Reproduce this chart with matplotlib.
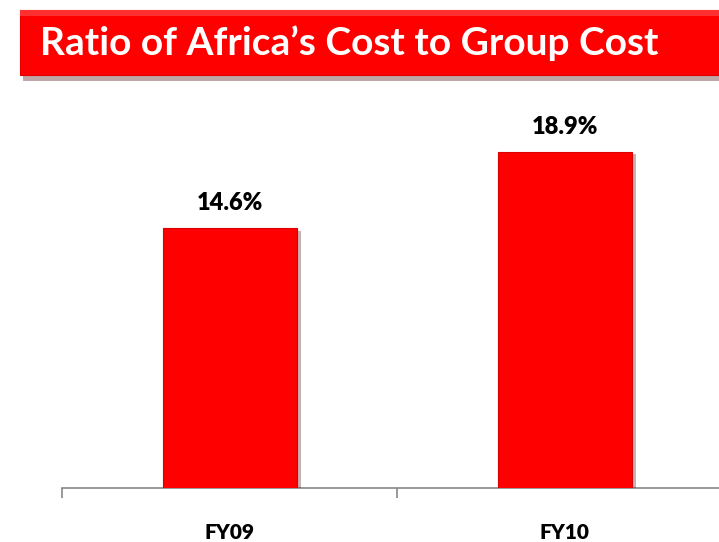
import matplotlib
matplotlib.use("Agg")
import matplotlib.pyplot as plt
import matplotlib.patheffects as pe
from matplotlib.patches import Rectangle

plt.rcParams["font.family"] = ["Lato", "DejaVu Sans"]

# ── Data ──────────────────────────────────────────────────────────────────────
years  = ["FY09", "FY10"]
ratios = [14.6, 18.9]
title  = "Ratio of Africa\u2019s Cost to Group Cost"

RED = "#ff0000"

fig = plt.figure(figsize=(7.19, 5.42), dpi=100)
fig.patch.set_facecolor("white")

# ── Title banner ──────────────────────────────────────────────────────────────
banner = Rectangle((20 / 719, 1 - 75 / 542), 1.0, 65 / 542,
                   transform=fig.transFigure, facecolor=RED,
                   edgecolor="#e00000", linewidth=0.8,
                   path_effects=[pe.SimplePatchShadow(offset=(2, -4), alpha=0.35),
                                 pe.Normal()])
fig.patches.append(banner)
fig.patches.append(Rectangle((20 / 719, 1 - 16 / 542), 1.0, 6 / 542,
                             transform=fig.transFigure, facecolor="#ff3030",
                             edgecolor="none"))
fig.text(40 / 719, 1 - 43 / 542, title, color="white", fontsize=28,
         fontweight="bold", ha="left", va="center")

# ── Bar chart ─────────────────────────────────────────────────────────────────
ax = fig.add_axes([62 / 719, 1 - 488 / 542, 657 / 719, 408 / 542])
x = list(range(len(years)))
bars = ax.bar(x, ratios, width=0.4, color=RED, edgecolor="#d80000",
              linewidth=0.8, zorder=3)
for b in bars:
    b.set_path_effects([pe.SimplePatchShadow(offset=(3, -2), alpha=0.3),
                        pe.Normal()])
    ax.annotate(f"{b.get_height():.1f}%",
                (b.get_x() + b.get_width() / 2, b.get_height()),
                xytext=(0, 13), textcoords="offset points",
                ha="center", va="baseline", fontsize=17, fontweight="heavy")

for s in ("top", "right", "left"):
    ax.spines[s].set_visible(False)
ax.spines["bottom"].set_color("#888888")
ax.spines["bottom"].set_linewidth(1.2)
ax.set_yticks([])

# category boundaries carry the tick marks, labels sit at the centres
ax.set_xticks([-0.5, 0.5, 1.5])
ax.set_xticklabels([])
ax.tick_params(axis="x", which="major", direction="out", length=7,
               width=1.2, color="#888888")
ax.set_xticks(x, minor=True)
ax.set_xticklabels(years, minor=True, fontsize=15, fontweight="heavy")
ax.tick_params(axis="x", which="minor", length=0, pad=25)

ax.set_xlim(-0.5, 1.461)
ax.set_ylim(0, 408 / 17.8)

fig.savefig("out.png", dpi=100)
